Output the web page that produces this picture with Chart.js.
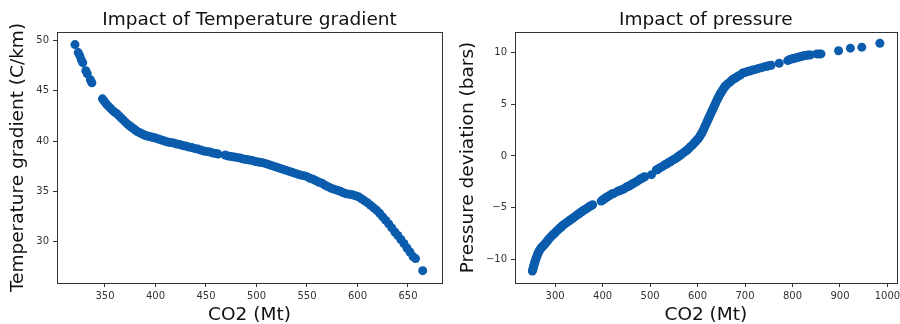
<!DOCTYPE html>
<html>
<head>
<meta charset="utf-8">
<script src="https://cdn.jsdelivr.net/npm/chart.js@4/dist/chart.umd.min.js"></script>
<style>
  html, body { margin:0; padding:0; background:#fff; }
  body { width:900px; height:324px; overflow:hidden; position:relative; }
  .box { position:absolute; top:0; height:324px; }
</style>
</head>
<body>
<div class="box" style="left:0;width:450px"><canvas id="c1"></canvas></div>
<div class="box" style="left:450px;width:470px"><canvas id="c2"></canvas></div>
<script>
// ---- Left chart: Impact of Temperature gradient ----
const tempCO2 = [
  320.3, 323.5, 325, 326.5, 328, 331, 332.5, 335.5, 337,
  347.5, 349, 350.5, 352, 354, 356, 358, 360, 362, 364, 366, 368, 370, 372, 374, 376, 378, 380,
  382, 384, 386, 388, 390, 392, 394, 396, 398, 400, 403, 406, 409, 412, 415, 418, 421, 424, 427,
  430, 433, 436, 439, 442, 445, 448, 451, 454, 457, 460, 462,
  469, 472, 475, 478, 481, 484, 487, 490, 493, 496, 499, 502, 505, 508, 511, 514, 517, 520, 523,
  526, 529, 532, 535, 538, 541, 544, 547, 550, 553, 556, 559, 562, 565, 568, 571, 574, 577, 580,
  583, 586, 589, 592, 595, 598, 601, 604, 607, 610, 613, 616, 619, 622, 625, 628, 631, 634, 637,
  640, 643, 646, 649, 652, 655, 657.5, 664.6
];
const tempGradient = [
  49.6, 48.8, 48.5, 48.1, 47.8, 47.0, 46.7, 46.1, 45.8,
  44.2, 44.0, 43.8, 43.6, 43.4, 43.2, 43.0, 42.85, 42.7, 42.5, 42.3, 42.1, 41.9, 41.7, 41.55, 41.4, 41.25, 41.1,
  40.95, 40.85, 40.75, 40.65, 40.55, 40.5, 40.45, 40.4, 40.35, 40.3, 40.2, 40.1, 40.0, 39.9, 39.85, 39.8, 39.7, 39.65, 39.55,
  39.5, 39.4, 39.35, 39.25, 39.2, 39.1, 39.0, 38.95, 38.9, 38.8, 38.75, 38.7,
  38.6, 38.5, 38.45, 38.4, 38.35, 38.3, 38.2, 38.15, 38.1, 38.05, 37.95, 37.9, 37.85, 37.8, 37.7, 37.6, 37.5, 37.4, 37.3,
  37.2, 37.1, 37.0, 36.9, 36.8, 36.7, 36.6, 36.55, 36.45, 36.3, 36.2, 36.05, 35.9, 35.8, 35.6, 35.45, 35.3, 35.2, 35.1,
  35.0, 34.85, 34.75, 34.7, 34.65, 34.55, 34.45, 34.25, 34.05, 33.85, 33.6, 33.35, 33.1, 32.8, 32.45, 32.1, 31.75, 31.35, 30.95,
  30.6, 30.2, 29.8, 29.35, 28.95, 28.5, 28.3, 27.1
];
const tempXTicks = [350, 400, 450, 500, 550, 600, 650];
const tempYTicks = [30, 35, 40, 45, 50];

// ---- Right chart: Impact of pressure ----
const pressCO2 = [
  252, 253, 254, 255, 256, 257, 258, 259, 260, 261.5, 263, 264.5, 266, 268, 270, 272, 274, 276, 278, 280,
  283, 286, 289, 292, 295, 298, 301, 304, 307, 310, 313, 316, 319, 322, 325, 328, 331, 334, 337, 340,
  343, 346, 349, 352, 355, 358, 361, 364, 367, 370, 373, 376, 379,
  397, 400, 403, 406, 409, 412, 415, 418, 421, 424,
  432, 435, 438, 441, 444, 447, 450, 453, 456, 459, 462, 465, 468, 471, 474, 477, 480, 483, 486, 489,
  503,
  513, 516, 519, 522, 525, 528, 531, 534, 537, 540, 543, 546, 549, 552, 555, 558, 561, 564, 567, 570,
  573, 576, 579, 582, 585, 588, 591, 594, 597,
  600, 602, 604, 606, 608, 610, 612, 614, 616, 618, 620, 622, 624, 626, 628, 630, 632, 634, 636, 638,
  640, 642, 644, 646, 648, 650, 652, 654, 656, 658, 660, 663, 666, 669, 672, 675, 678, 681, 684, 687, 690,
  695, 700, 705, 710, 716, 722, 728, 734, 741, 746, 750, 755,
  772,
  790, 794, 798, 802, 806, 810, 814, 818, 822, 826, 830, 834, 838,
  851, 856, 860,
  897, 922, 946, 984
];
const pressDeviation = [
  -11.1, -10.95, -10.8, -10.6, -10.45, -10.3, -10.15, -10.0, -9.85, -9.7, -9.5, -9.35, -9.2, -9.05, -8.9, -8.8, -8.7, -8.6, -8.5, -8.4,
  -8.25, -8.05, -7.9, -7.75, -7.6, -7.5, -7.35, -7.2, -7.1, -6.95, -6.85, -6.7, -6.6, -6.5, -6.4, -6.3, -6.2, -6.1, -6.0, -5.9,
  -5.8, -5.7, -5.6, -5.5, -5.4, -5.3, -5.2, -5.15, -5.05, -4.95, -4.85, -4.8, -4.7,
  -4.35, -4.25, -4.15, -4.05, -3.95, -3.9, -3.8, -3.7, -3.65, -3.6,
  -3.4, -3.35, -3.3, -3.25, -3.2, -3.1, -3.0, -2.95, -2.9, -2.8, -2.7, -2.65, -2.55, -2.5, -2.4, -2.3, -2.2, -2.15, -2.05, -2.0,
  -1.8,
  -1.35, -1.3, -1.2, -1.1, -1.05, -0.95, -0.85, -0.8, -0.7, -0.6, -0.55, -0.45, -0.35, -0.3, -0.2, -0.1, 0.0, 0.1, 0.2, 0.3,
  0.4, 0.5, 0.6, 0.75, 0.9, 1.0, 1.15, 1.3, 1.45,
  1.6, 1.7, 1.85, 2.0, 2.15, 2.3, 2.5, 2.7, 2.9, 3.1, 3.3, 3.5, 3.7, 3.9, 4.1, 4.3, 4.5, 4.7, 4.9, 5.1,
  5.3, 5.5, 5.65, 5.85, 6.0, 6.15, 6.3, 6.45, 6.6, 6.7, 6.8, 6.95, 7.05, 7.15, 7.3, 7.4, 7.5, 7.55, 7.65, 7.75, 7.8,
  8.0, 8.05, 8.15, 8.2, 8.3, 8.35, 8.45, 8.5, 8.6, 8.65, 8.7, 8.75,
  8.95,
  9.2, 9.3, 9.35, 9.4, 9.45, 9.5, 9.55, 9.6, 9.65, 9.7, 9.72, 9.75, 9.75,
  9.85, 9.85, 9.85,
  10.15, 10.4, 10.5, 10.87
];
const pressXTicks = [300, 400, 500, 600, 700, 800, 900, 1000];
const pressYTicks = [-10, -5, 0, 5, 10];

const FONT = "'DejaVu Sans', 'Liberation Sans', sans-serif";
const MARK = '#0b5cad';
const INK = '#333333';

const framePlugin = {
  id: 'frame',
  afterDraw(chart) {
    const a = chart.chartArea, ctx = chart.ctx;
    ctx.save();
    ctx.strokeStyle = INK;
    ctx.lineWidth = 1;
    ctx.strokeRect(Math.round(a.left) + 0.5, Math.round(a.top) + 0.5,
                   Math.round(a.right - a.left), Math.round(a.bottom - a.top));
    ctx.restore();
  }
};

function fmt(v) { return String(v).replace('-', '\u2212'); }

function makeChart(id, title, xs, ys, xTicks, yTicks, xr, yr, yLabel, yAxisWidth, padRight) {
  const pts = xs.map((x, i) => ({ x: x, y: ys[i] }));
  return new Chart(document.getElementById(id), {
    type: 'scatter',
    data: { datasets: [{ data: pts, backgroundColor: MARK, borderWidth: 0, pointRadius: 4.5, pointHoverRadius: 4.5 }] },
    plugins: [framePlugin],
    options: {
      responsive: true,
      maintainAspectRatio: false,
      animation: false,
      events: [],
      layout: { padding: { left: 0, right: padRight, top: 0, bottom: 0 } },
      plugins: {
        legend: { display: false },
        tooltip: { enabled: false },
        title: {
          display: true, text: title, color: '#111', fullSize: false,
          font: { family: FONT, size: 18.5, weight: 'normal', lineHeight: 1.2 },
          padding: { top: 8.9, bottom: 0.9 }
        }
      },
      scales: {
        x: {
          type: 'linear', min: xr[0], max: xr[1],
          afterBuildTicks: s => { s.ticks = xTicks.map(v => ({ value: v })); },
          afterFit: s => { s.height = 41; },
          grid: { display: true, drawOnChartArea: false, drawTicks: true, tickLength: 4, color: INK },
          border: { display: false },
          ticks: { color: INK, font: { family: FONT, size: 10 }, padding: 3, maxRotation: 0, autoSkip: false, callback: v => fmt(v) },
          title: { display: true, text: 'CO2 (Mt)', color: '#111', font: { family: FONT, size: 18.5, lineHeight: 1.0 }, padding: { top: 0, bottom: 0 } }
        },
        y: {
          type: 'linear', min: yr[0], max: yr[1],
          afterBuildTicks: s => { s.ticks = yTicks.map(v => ({ value: v })); },
          afterFit: s => { s.width = yAxisWidth; },
          grid: { display: true, drawOnChartArea: false, drawTicks: true, tickLength: 4, color: INK },
          border: { display: false },
          ticks: { color: INK, font: { family: FONT, size: 10 }, padding: 4, autoSkip: false, callback: v => fmt(v) },
          title: { display: true, text: yLabel, color: '#111', font: { family: FONT, size: 18.5, lineHeight: 1.2 }, padding: { top: 6.9, bottom: 0 } }
        }
      }
    }
  });
}

makeChart('c1', 'Impact of Temperature gradient', tempCO2, tempGradient, tempXTicks, tempYTicks,
          [302.5, 683.7], [25.87, 50.85], 'Temperature gradient (C/km)', 57, 8);
makeChart('c2', 'Impact of pressure', pressCO2, pressDeviation, pressXTicks, pressYTicks,
          [215.5, 1019.5], [-12.25, 11.96], 'Pressure deviation (bars)', 65, 23.3);
</script>
</body>
</html>
